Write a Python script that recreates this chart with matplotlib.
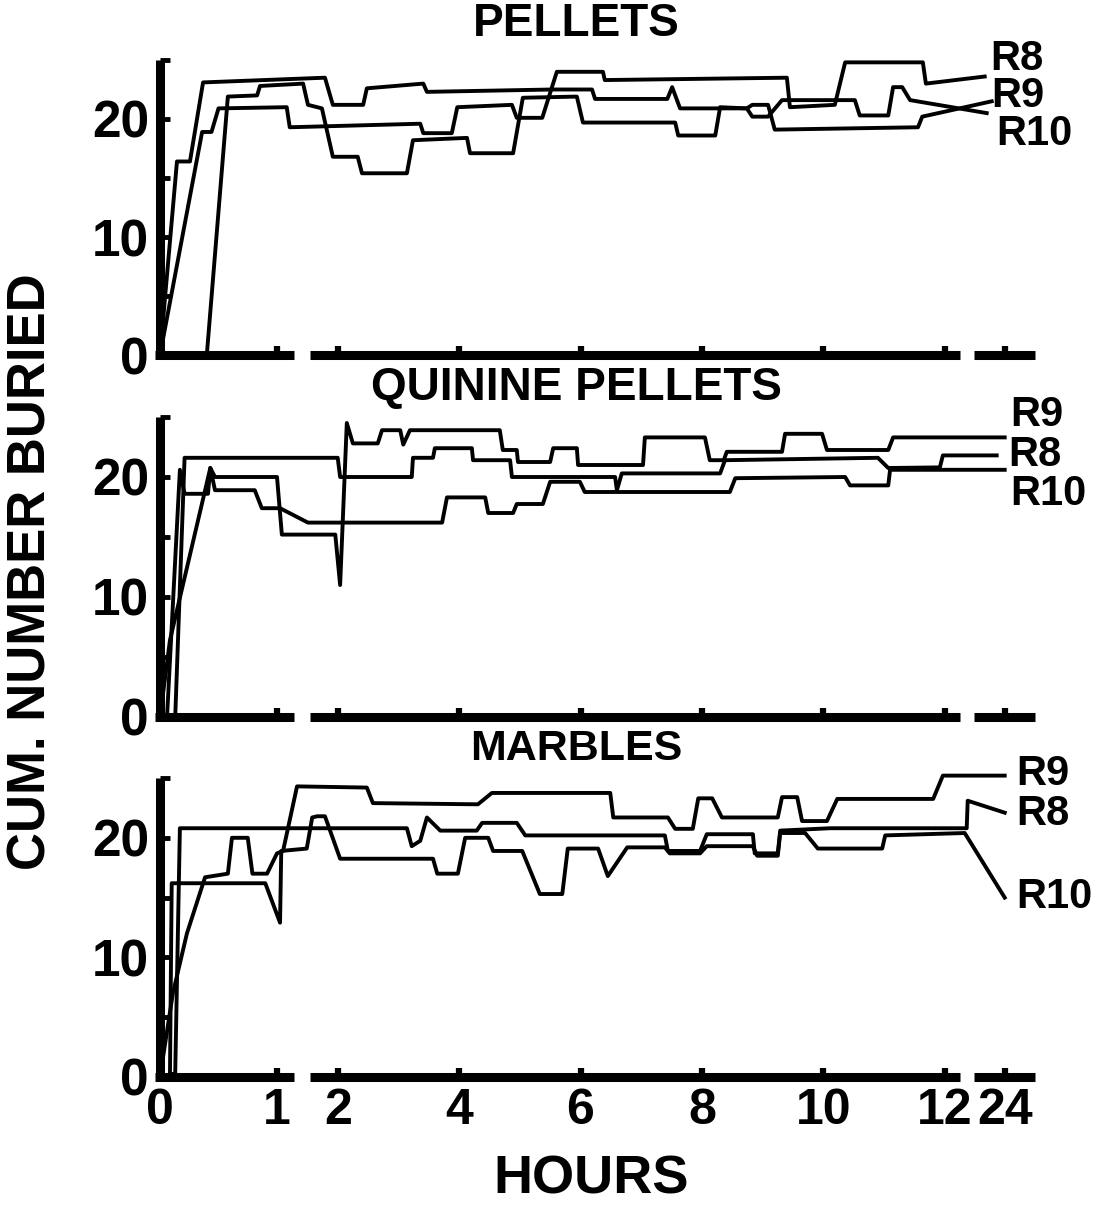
import numpy as np
import matplotlib
matplotlib.use("Agg")
import matplotlib.pyplot as plt
from matplotlib.ticker import NullLocator

plt.rcParams['font.family'] = ['Liberation Sans', 'DejaVu Sans']
plt.rcParams['font.weight'] = 'bold'

# ---------------- data (hours, cumulative number buried) ----------------
# PELLETS
p1_r8_h = [0, 0.36, 0.44, 0.50, 1.16, 1.21, 3.36, 3.41, 3.88, 3.97, 4.87, 4.95, 5.37, 5.61,
           6.37, 6.40, 9.40, 9.45, 10.19, 10.36, 11.64, 11.69, 20.0]
p1_r8_v = [0, 18.9, 18.9, 20.9, 21.0, 19.3, 19.6, 18.8, 18.8, 21.0, 21.2, 20.1, 20.1, 24.0,
           24.0, 23.3, 23.5, 21.0, 21.2, 24.8, 24.8, 23.0, 23.6]
p1_r9_h = [0, 0.40, 0.58, 0.83, 0.855, 1.43, 1.51, 1.74, 1.92, 2.33, 2.40, 3.14, 3.24, 4.13,
           4.18, 4.89, 5.05, 5.94, 6.04, 7.56, 7.61, 8.22, 8.30, 8.74, 8.83, 9.09, 9.20, 11.56,
           11.63, 21.4]
p1_r9_v = [0, 0, 21.9, 22.0, 22.8, 23.0, 21.2, 20.9, 16.8, 16.8, 15.4, 15.4, 18.2, 18.4,
           17.1, 17.1, 21.8, 21.9, 19.7, 19.7, 18.6, 18.6, 21.0, 20.9, 21.2, 21.2, 19.1, 19.3,
           20.2, 21.5]
p1_r10_h = [0, 0.145, 0.256, 0.368, 1.79, 1.92, 2.42, 2.48, 3.41, 3.47, 5.53, 6.19, 6.24,
            7.43, 7.51, 7.64, 8.74, 8.83, 9.09, 9.32, 10.52, 10.60, 11.07, 11.15, 11.30,
            11.43, 20.4]
p1_r10_v = [0, 16.4, 16.4, 23.1, 23.5, 21.2, 21.2, 22.6, 23.0, 22.3, 22.5, 22.5, 21.7,
            21.7, 22.7, 20.9, 20.9, 20.2, 20.2, 21.6, 21.6, 20.3, 20.3, 22.7, 22.7, 21.6, 20.5]

# QUININE PELLETS
p2_r8_h = [0, 0.13, 0.21, 2.00, 2.04, 3.22, 3.24, 3.57, 3.60, 4.21, 4.23, 4.84, 4.87, 6.57,
           6.60, 6.68, 8.30, 8.38, 10.90, 11.07, 11.92, 11.97, 22.4]
p2_r8_v = [0, 0, 21.6, 21.6, 20.0, 20.0, 21.6, 21.6, 22.4, 22.4, 21.4, 21.4, 20.0, 20.0,
           18.9, 20.3, 20.3, 21.4, 21.6, 20.75, 20.8, 21.8, 21.8]
p2_r9_h = [0, 0.085, 0.43, 0.47, 1.0, 1.08, 1.96, 2.04, 2.15, 2.25, 2.66, 2.73, 3.03, 3.08,
           3.19, 4.67, 4.72, 4.95, 4.97, 5.50, 5.55, 5.94, 5.96, 7.03, 7.06, 8.05, 8.13, 8.36,
           8.41, 9.32, 9.37, 9.98, 10.06, 11.07, 11.15, 24.0]
p2_r9_v = [0, 6.4, 20.75, 20.0, 20.0, 15.2, 15.2, 11.0, 24.5, 22.8, 22.8, 23.9, 23.9, 22.7,
           23.9, 23.9, 22.25, 22.25, 21.25, 21.25, 22.4, 22.4, 21.0, 21.0, 23.3, 23.3, 21.4,
           21.4, 22.1, 22.1, 23.6, 23.6, 22.25, 22.25, 23.3, 23.3]
p2_r10_h = [0, 0.06, 0.17, 0.21, 0.41, 0.43, 0.47, 0.81, 0.87, 1.05, 1.51, 3.72, 3.80, 4.43,
            4.48, 4.89, 4.95, 5.38, 5.50, 5.99, 6.07, 8.46, 8.55, 10.36, 10.44, 11.07, 11.10,
            24.0]
p2_r10_v = [0, 0, 20.6, 18.6, 18.6, 20.75, 18.9, 18.9, 17.4, 17.4, 16.2, 16.2, 18.3, 18.3,
            17.0, 17.0, 17.75, 17.75, 19.6, 19.6, 18.75, 18.75, 19.9, 20.0, 19.3, 19.3, 20.6,
            20.6]

# MARBLES
p3_r8_h = [0, 0.13, 0.17, 3.14, 3.22, 3.36, 3.47, 3.69, 4.29, 4.38, 4.95, 5.09, 7.39, 7.44,
           7.97, 8.08, 8.84, 8.87, 9.25, 9.29, 10.11, 16.4, 16.6, 24.0]
p3_r8_v = [0, 0.3, 20.8, 20.8, 19.3, 19.75, 21.7, 20.6, 20.6, 21.25, 21.25, 20.2, 20.2,
           18.9, 18.9, 20.3, 20.3, 18.7, 18.7, 20.6, 20.8, 20.8, 23.1, 22.1]
p3_r9_h = [0, 0.11, 0.23, 0.385, 0.58, 0.615, 0.75, 0.79, 0.915, 1.0, 1.10, 1.33, 2.48, 2.58,
           4.31, 4.54, 6.49, 6.54, 7.44, 7.56, 7.85, 7.94, 8.17, 8.33, 9.25, 9.32, 9.57, 9.65,
           10.06, 10.23, 11.81, 11.97, 24.0]
p3_r9_v = [0, 7.0, 12.0, 16.7, 17.0, 20.0, 20.0, 17.0, 17.0, 18.7, 18.9, 24.3, 24.2, 22.9,
           22.8, 23.75, 23.75, 21.7, 21.7, 20.75, 20.75, 23.3, 23.3, 21.7, 21.7, 23.4, 23.4,
           21.4, 21.4, 23.25, 23.25, 25.2, 25.2]
p3_r10_h = [0, 0.085, 0.10, 0.90, 1.05, 1.07, 1.49, 1.58, 1.66, 1.79, 2.04, 3.57, 3.64, 3.98,
            4.10, 4.48, 4.56, 5.04, 5.33, 5.70, 5.79, 6.29, 6.45, 6.77, 7.39, 7.47, 7.97, 8.08,
            8.84, 8.91, 9.25, 9.29, 9.70, 9.91, 10.97, 11.02, 16.0, 24.0]
p3_r10_v = [0, 0, 16.2, 16.2, 12.9, 18.9, 19.1, 21.7, 21.8, 21.8, 18.25, 18.25, 17.0, 17.0,
            20.0, 20.0, 18.9, 18.9, 15.3, 15.3, 19.1, 19.1, 16.8, 19.2, 19.2, 18.7, 18.7, 19.3,
            19.3, 18.5, 18.5, 20.4, 20.4, 19.1, 19.1, 20.2, 20.4, 15.0]

titles = ["PELLETS", "QUININE PELLETS", "MARBLES"]
x_ticks = [0, 1, 2, 4, 6, 8, 10, 12, 24]
x_ticklabels = ["0", "1", "2", "4", "6", "8", "10", "12", "24"]
y_ticks = [0, 10, 20]
y_minor = [5, 15, 25]

# --------------- broken / stretched time axis as a function scale ----------------
HB = [-100, 0, 1, 12, 24, 200]
PB = [-11700, 0, 117, 784.7, 844.7, 1724.7]


def fwd(h):
    return np.interp(h, HB, PB)


def inv(p):
    return np.interp(p, PB, HB)


W, H = 1109, 1205
fig = plt.figure(figsize=(W / 100, H / 100), dpi=100)
fig.patch.set_facecolor("white")

panel_px = [(355, 60), (717, 417), (1077, 778)]
series = [
    [(p1_r8_h, p1_r8_v), (p1_r9_h, p1_r9_v), (p1_r10_h, p1_r10_v)],
    [(p2_r8_h, p2_r8_v), (p2_r9_h, p2_r9_v), (p2_r10_h, p2_r10_v)],
    [(p3_r8_h, p3_r8_v), (p3_r9_h, p3_r9_v), (p3_r10_h, p3_r10_v)],
]
# end labels: (text, x_px, y_px center)
end_labels = [
    [("R8", 990, 59), ("R9", 991, 96), ("R10", 996, 134)],
    [("R9", 1010, 415), ("R8", 1008, 455), ("R10", 1010, 494)],
    [("R9", 1016, 774), ("R8", 1016, 814), ("R10", 1016, 897)],
]
title_y = [24, 388, 749]
title_size = [33, 33, 31]
axis_segments = [(-0.04, 1.28), (1.54, 15.0), (17.8, 30.0)]

for i, (bpx, tpx) in enumerate(panel_px):
    ax = fig.add_axes([160 / W, 1 - bpx / H, 880 / W, (bpx - tpx) / H])
    ax.set_xscale('function', functions=(fwd, inv))
    ax.set_xlim(0, 31.06)
    ax.set_ylim(0, 25)
    for s in ['top', 'right', 'bottom']:
        ax.spines[s].set_visible(False)
    ax.spines['left'].set_linewidth(6.5)
    ax.spines['left'].set_capstyle('butt')

    ax.set_yticks(y_ticks)
    ax.set_yticks(y_minor, minor=True)
    ax.tick_params(axis='y', which='both', direction='in', length=7.5, width=3.5,
                   pad=8, labelsize=37)
    ax.set_xticks(x_ticks)
    ax.set_xticklabels(x_ticklabels)
    ax.xaxis.set_minor_locator(NullLocator())
    ax.tick_params(axis='x', which='both', direction='in', length=6.5, width=4.5,
                   pad=8, labelsize=36, labelbottom=(i == 2))

    for a, b in axis_segments:
        ax.plot([a, b], [0, 0], transform=ax.get_xaxis_transform(), color='black',
                lw=6.5, solid_capstyle='butt', clip_on=False)

    for h, v in series[i]:
        ax.plot(h, v, color='black', lw=2.8, clip_on=False, solid_joinstyle='round')

    fig.text(576 / W, 1 - title_y[i] / H, titles[i], ha='center', va='center',
             fontsize=title_size[i], fontweight='bold')
    for txt, xp, yp in end_labels[i]:
        fig.text(xp / W, 1 - yp / H, txt, ha='left', va='center', fontsize=30,
                 fontweight='bold')

fig.text(32 / W, 1 - 572 / H, "CUM. NUMBER BURIED", rotation=90, ha='center',
         va='center', fontsize=38, fontweight='bold')
fig.text(591 / W, 1 - 1180 / H, "HOURS", ha='center', va='center', fontsize=39,
         fontweight='bold')

fig.savefig("out.png", dpi=100, facecolor="white")
